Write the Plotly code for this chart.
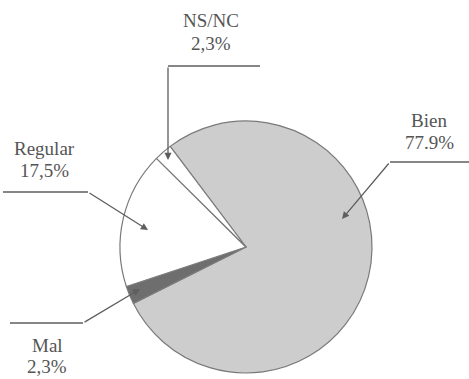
import plotly.graph_objects as go

# Survey answers and their shares (%)
categories = ["Bien", "Mal", "Regular", "NS/NC"]
shares = [77.9, 2.3, 17.5, 2.3]
share_labels = ["77.9%", "2,3%", "17,5%", "2,3%"]
slice_colors = ["#cdcdcd", "#6e6e6e", "#ffffff", "#ffffff"]

W, H = 469, 379
cx, cy, r = 246, 247, 126  # pie centre and radius in pixels

fig = go.Figure()

fig.add_trace(go.Pie(
    labels=categories,
    values=shares,
    sort=False,
    direction="clockwise",
    rotation=-37,
    marker=dict(colors=slice_colors, line=dict(color="#7a7a7a", width=1.2)),
    textinfo="none",
    hoverinfo="label+percent",
    showlegend=False,
    domain=dict(x=[(cx - r) / W, (cx + r) / W],
                y=[(H - cy - r) / H, (H - cy + r) / H]),
))

# Invisible pixel-space axes used to place the callouts
fig.update_xaxes(range=[0, W], visible=False, fixedrange=True)
fig.update_yaxes(range=[H, 0], visible=False, fixedrange=True)
fig.add_trace(go.Scatter(x=[0, W], y=[0, H], mode="markers",
                         marker=dict(opacity=0), hoverinfo="skip", showlegend=False))

line_col = "#5e5e5e"
text_col = "#555555"
font = dict(family="Liberation Serif, Times New Roman, serif", size=19, color=text_col)

# callout: label x, name/value line y, elbow segment (start, knee), arrow tip
callouts = {
    "NS/NC":   dict(tx=211, ty=(20, 43), seg=((260, 66), (168, 66)), tip=(168, 160)),
    "Regular": dict(tx=44, ty=(148, 170), seg=((3, 192), (88, 192)), tip=(148, 230)),
    "Mal":     dict(tx=47, ty=(345, 366), seg=((10, 323), (83, 323)), tip=(140, 289)),
    "Bien":    dict(tx=429, ty=(120, 142), seg=((469, 162), (390, 162)), tip=(342, 219)),
}

for name, lab in zip(categories, share_labels):
    c = callouts[name]
    (x0, y0), (x1, y1) = c["seg"]
    fig.add_shape(type="line", xref="x", yref="y", x0=x0, y0=y0, x1=x1, y1=y1,
                  line=dict(color=line_col, width=1.3))
    fig.add_annotation(xref="x", yref="y", axref="x", ayref="y",
                       x=c["tip"][0], y=c["tip"][1], ax=x1, ay=y1,
                       text="", showarrow=True, arrowhead=2, arrowsize=1.1,
                       arrowwidth=1.3, arrowcolor=line_col, standoff=0, startstandoff=0)
    for txt, ty in zip((name, lab), c["ty"]):
        fig.add_annotation(xref="x", yref="y", x=c["tx"], y=ty, text=txt,
                           showarrow=False, font=font, xanchor="center",
                           yanchor="middle")

fig.update_layout(
    width=W, height=H,
    margin=dict(l=0, r=0, t=0, b=0),
    paper_bgcolor="white", plot_bgcolor="rgba(0,0,0,0)",
)

fig.write_html("out.html")
